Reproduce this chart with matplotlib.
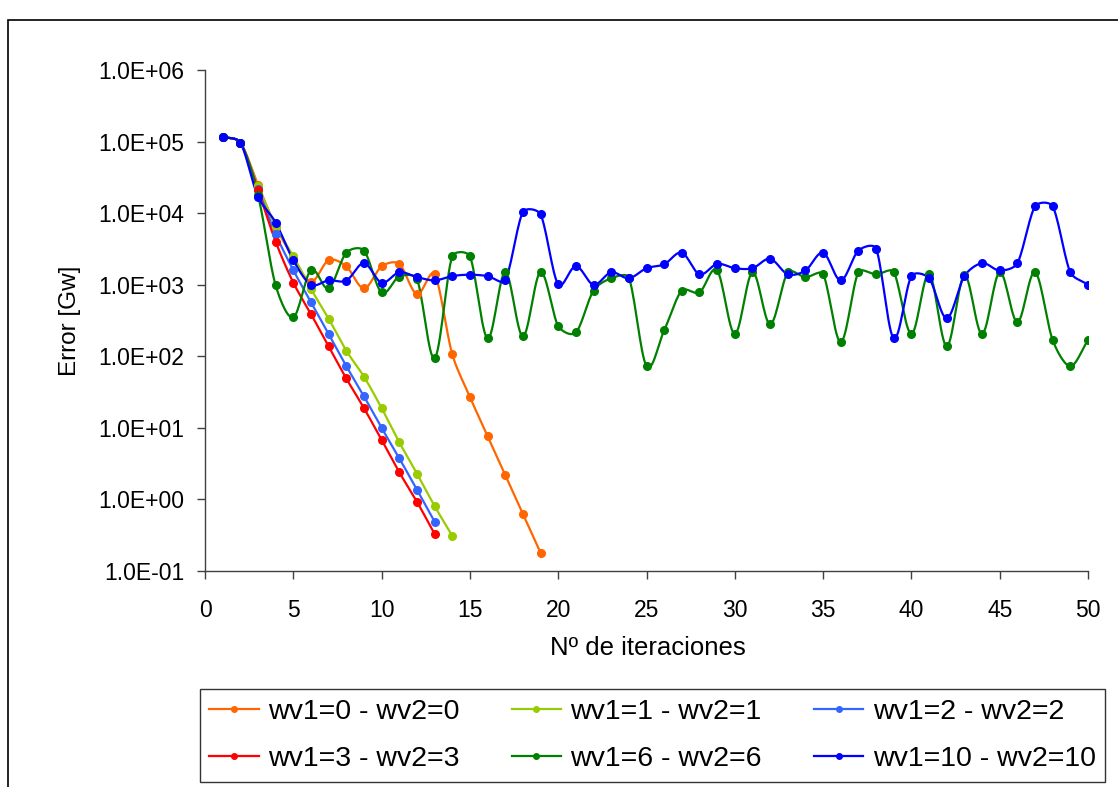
import numpy as np
import matplotlib
matplotlib.use('Agg')
import matplotlib.pyplot as plt
from matplotlib.patches import Rectangle
from matplotlib.ticker import FixedLocator, FuncFormatter

plt.rcParams['font.family'] = ['Liberation Sans', 'DejaVu Sans']

# error per iteration for each (wv1, wv2) setting
err_w0 = [1.17e5, 9.7e4, 2.5e4, 6.5e3, 2.4e3, 1.1e3, 2.2e3, 1.8e3, 890, 1.8e3,
          1.95e3, 740, 1.4e3, 107, 27, 7.7, 2.2, 0.63, 0.18]
err_w1 = [1.17e5, 9.7e4, 2.4e4, 6.6e3, 2.5e3, 870, 335, 120, 52, 18.9,
          6.3, 2.3, 0.81, 0.31]
err_w2 = [1.17e5, 9.7e4, 2.2e4, 5.1e3, 1.6e3, 570, 205, 73, 27.6, 10,
          3.76, 1.37, 0.49]
err_w3 = [1.17e5, 9.7e4, 2.1e4, 4.0e3, 1.07e3, 390, 138, 49, 18.9, 6.8,
          2.4, 0.93, 0.33]
err_w6 = [1.17e5, 9.7e4, 1.8e4, 980, 350, 1.6e3, 890, 2.8e3, 3.0e3, 780,
          1.3e3, 1.2e3, 94, 2.5e3, 2.5e3, 178, 1.5e3, 190, 1.5e3, 265,
          215, 830, 1.23e3, 1.25e3, 73, 230, 830, 780, 1.58e3, 205,
          1.49e3, 280, 1.49e3, 1.28e3, 1.4e3, 158, 1.5e3, 1.4e3, 1.5e3, 205,
          1.42e3, 138, 1.35e3, 205, 1.5e3, 300, 1.5e3, 168, 73, 168]
err_w10 = [1.17e5, 9.7e4, 1.7e4, 7.4e3, 2.2e3, 1.0e3, 1.15e3, 1.14e3, 2.0e3, 1.07e3,
           1.49e3, 1.28e3, 1.15e3, 1.32e3, 1.38e3, 1.32e3, 1.15e3, 1.03e4, 9.6e3, 1.01e3,
           1.82e3, 1.0e3, 1.49e3, 1.23e3, 1.7e3, 1.93e3, 2.8e3, 1.4e3, 1.95e3, 1.7e3,
           1.7e3, 2.3e3, 1.4e3, 1.58e3, 2.8e3, 1.15e3, 3.0e3, 3.2e3, 178, 1.32e3,
           1.23e3, 340, 1.32e3, 2.0e3, 1.58e3, 2.0e3, 1.24e4, 1.24e4, 1.49e3, 1.0e3]

labels = ['wv1=0 - wv2=0', 'wv1=1 - wv2=1', 'wv1=2 - wv2=2',
          'wv1=3 - wv2=3', 'wv1=6 - wv2=6', 'wv1=10 - wv2=10']
colors = ['#FF6600', '#99CC00', '#3366FF', '#FF0000', '#008000', '#0000FF']
series = [err_w0, err_w1, err_w2, err_w3, err_w6, err_w10]

# rough screen scale (px per x unit, px per decade) so the smoothing looks like excel's
SX, SY = 17.66, 71.7


def clamp(v, lim):
    n = np.hypot(*v)
    return v if n <= lim else v * lim / n


def smooth(x, y, n=16):
    # catmull-rom handles, shortened to a third of the segment they sit on
    P = np.column_stack([np.asarray(x, float) * SX, np.log10(y) * SY])
    m = len(P)
    tg = np.array([(P[min(i + 1, m - 1)] - P[max(i - 1, 0)]) / 6 for i in range(m)])
    tg[0] *= 2
    tg[-1] *= 2
    t = np.linspace(0, 1, n, endpoint=False)[:, None]
    out = []
    for i in range(m - 1):
        L = np.hypot(*(P[i + 1] - P[i])) / 3
        p0, p3 = P[i], P[i + 1]
        p1, p2 = p0 + clamp(tg[i], L), p3 - clamp(tg[i + 1], L)
        out.append((1 - t) ** 3 * p0 + 3 * (1 - t) ** 2 * t * p1 + 3 * (1 - t) * t ** 2 * p2 + t ** 3 * p3)
    out.append(P[-1:])
    out = np.vstack(out)
    return out[:, 0] / SX, 10 ** (out[:, 1] / SY)


fig = plt.figure(figsize=(11.18, 7.87), dpi=100)
ax = fig.add_axes([205 / 1118, 1 - 571 / 787, 883 / 1118, 501 / 787])

handles = []
for y, c, lab in zip(series, colors, labels):
    x = np.arange(1, len(y) + 1)
    sx, sy = smooth(x, y)
    ax.plot(sx, sy, color=c, lw=1.6, zorder=2)
    ax.plot(x, y, 'o', color=c, ms=5.5, zorder=3)
    h, = ax.plot([], [], '-o', color=c, lw=1.6, ms=4, label=lab)
    handles.append(h)

ax.set_yscale('log')
ax.set_ylim(0.1, 1e6)
ax.set_xlim(0, 50)
ax.set_xticks(range(0, 51, 5))
ax.yaxis.set_major_locator(FixedLocator([10.0 ** k for k in range(-1, 7)]))
ax.yaxis.set_minor_locator(FixedLocator([]))
ax.yaxis.set_major_formatter(FuncFormatter(lambda v, p: '%.1E' % v))
ax.spines['top'].set_visible(False)
ax.spines['right'].set_visible(False)
for s in ('left', 'bottom'):
    ax.spines[s].set_color('#404040')
    ax.spines[s].set_linewidth(1)
ax.tick_params(direction='out', length=6, width=1, color='#404040', labelsize=16.5)
ax.tick_params(axis='y', pad=9)
ax.tick_params(axis='x', pad=14)
ax.set_xlabel('Nº de iteraciones', fontsize=18.5)
ax.set_ylabel('Error [Gw]', fontsize=17.5)
ax.xaxis.set_label_coords(0.5017, -0.13)
ax.yaxis.set_label_coords(-0.140, 0.499)

fig.patches.append(Rectangle((8 / 1118, -0.1), 1.2, 1 - 20 / 787 + 0.1, transform=fig.transFigure,
                             fill=False, edgecolor='black', lw=1.2))

# legend fills row by row in the reference, matplotlib fills by column
order = [0, 3, 1, 4, 2, 5]
leg = fig.legend(handles=[handles[i] for i in order], loc='center', ncol=3, mode='expand',
                 bbox_to_anchor=(200 / 1118, 4 / 787, 905 / 1118, 95 / 787), borderaxespad=0,
                 fontsize=20.5, frameon=True, fancybox=False, edgecolor='black',
                 handlelength=1.75, handletextpad=0.32, borderpad=0.33, labelspacing=0.75)
leg.get_frame().set_linewidth(1)

fig.savefig('out.png', dpi=100)
